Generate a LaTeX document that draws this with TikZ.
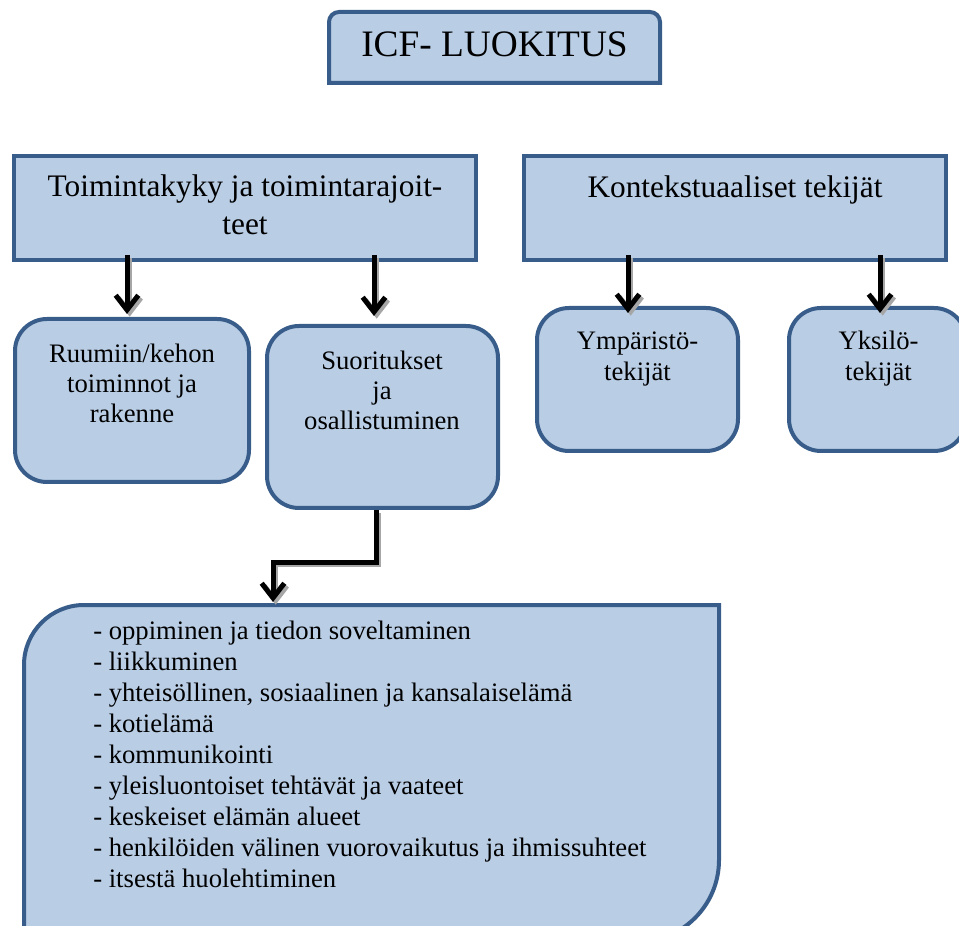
\documentclass[tikz,border=0pt]{standalone}
\usepackage{fontspec}
\setmainfont{Liberation Serif}
\usetikzlibrary{arrows.meta,calc}
\definecolor{boxfill}{HTML}{B9CDE5}
\definecolor{boxline}{HTML}{385D8A}
\begin{document}
\begin{tikzpicture}[x=0.75pt,y=0.75pt,
  box/.style={draw=boxline, fill=boxfill, line width=3pt},
  sbox/.style={box, rectangle, inner sep=0pt},
  rbox/.style={box, rectangle, rounded corners=24pt, inner sep=0pt},
  txt/.style={inner sep=0pt, align=center, anchor=base},
  big/.style={font=\fontsize{23.5}{28.5}\selectfont},
  mid/.style={font=\fontsize{20}{22.5}\selectfont},
  arr/.style={line width=3.75pt, -{Straight Barb[length=11pt,width=17pt]}, line join=miter},
  shd/.style={arr, draw=black!35, transform canvas={xshift=2pt,yshift=-2pt}}]
\useasboundingbox (0,0) rectangle (959,925);

% ICF title box (top corners rounded)
\draw[box] (329,842) -- (329,903) arc[start angle=180,end angle=90,radius=7.5pt]
  -- (650,913) arc[start angle=90,end angle=0,radius=7.5pt] -- (660,842) -- cycle;
\node[txt, font=\fontsize{28}{33}\selectfont] (icf) at (494.5,868) {ICF- LUOKITUS};

% main category boxes
\node[sbox, minimum width=346.5pt, minimum height=78pt] (T) at (245,717) {};
\node[sbox, minimum width=316.5pt, minimum height=78pt] (K) at (735,717) {};
\node[txt, big] (tt) at (245,690) {Toimintakyky ja toimintarajoit-\\teet};
\node[txt, big] (kt) at (735,727) {Kontekstuaaliset tekijät};

% sub boxes
\node[rbox, minimum width=175.5pt, minimum height=122.25pt] (R) at (132,524.5) {};
\node[rbox, minimum width=173.25pt, minimum height=136.5pt] (S) at (382.5,508) {};
\node[rbox, minimum width=150.75pt, minimum height=107.25pt] (Y1) at (637.5,545.5) {};
\node[rbox, minimum width=132.75pt, minimum height=107.25pt] (Y2) at (877.5,545.5) {};
\node[txt, mid] (rt) at (132,502) {Ruumiin/kehon\\toiminnot ja\\rakenne};
\node[txt, mid] (st) at (382,495) {Suoritukset\\ja\\osallistuminen};
\node[txt, font=\fontsize{20}{23.25}\selectfont] (y1t) at (637.5,544) {Ympäristö-\\tekijät};
\node[txt, font=\fontsize{20}{23.25}\selectfont] (y2t) at (878.5,544) {Yksilö-\\tekijät};

% bottom list box
\draw[box] (24,-40) -- (24,260) arc[start angle=180,end angle=90,radius=45pt]
  -- (719,320) -- (719,65) arc[start angle=0,end angle=-90,radius=61.5pt] -- cycle;
\coordinate (Ltop) at (273,323);
\node[inner sep=0pt, align=left, anchor=base west, font=\fontsize{20}{23.2}\selectfont] (list) at (93,37.6)
 {- oppiminen ja tiedon soveltaminen\\
  - liikkuminen\\
  - yhteisöllinen, sosiaalinen ja kansalaiselämä\\
  - kotielämä\\
  - kommunikointi\\
  - yleisluontoiset tehtävät ja vaateet\\
  - keskeiset elämän alueet\\
  - henkilöiden välinen vuorovaikutus ja ihmissuhteet\\
  - itsestä huolehtiminen};

% shadows
\draw[shd] ($(T.south -| R.north)+(-5,7)$) -- ($(R.north)+(-5,3)$);
\draw[shd] ($(T.south -| S.north)+(-8.5,7)$) -- ($(S.north)+(-8.5,8)$);
\draw[shd] ($(K.south -| Y1.north)+(-9.5,7)$) -- ($(Y1.north)+(-9.5,-7)$);
\draw[shd] ($(K.south -| Y2.north)+(2.5,7)$) -- ($(Y2.north)+(2.5,-7)$);
\draw[shd] ($(S.south)+(-6.5,0)$) |- ($(Ltop)+(0,40)$) -- (Ltop);

% arrows
\draw[arr] ($(T.south -| R.north)+(-5,7)$) -- ($(R.north)+(-5,3)$);
\draw[arr] ($(T.south -| S.north)+(-8.5,7)$) -- ($(S.north)+(-8.5,8)$);
\draw[arr] ($(K.south -| Y1.north)+(-9.5,7)$) -- ($(Y1.north)+(-9.5,-7)$);
\draw[arr] ($(K.south -| Y2.north)+(2.5,7)$) -- ($(Y2.north)+(2.5,-7)$);
\draw[arr] ($(S.south)+(-6.5,0)$) |- ($(Ltop)+(0,40)$) -- (Ltop);
\end{tikzpicture}
\end{document}
